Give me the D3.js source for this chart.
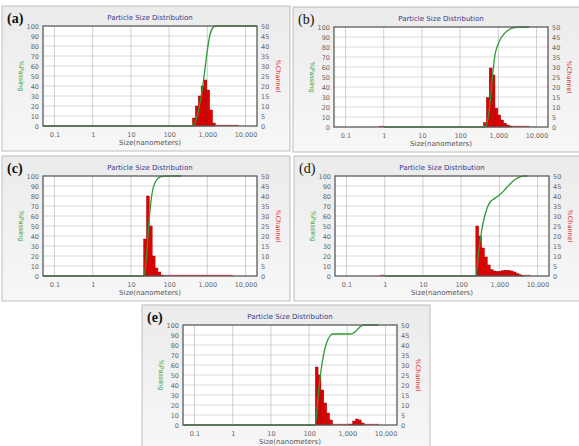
<!DOCTYPE html>
<html>
<head>
<meta charset="utf-8">
<script src="https://cdn.jsdelivr.net/npm/d3@7"></script>
<style>
  body { margin: 0; background: #fff; }
  svg { display: block; }
</style>
</head>
<body>
<svg id="chart" width="579" height="446"></svg>
<script>
// tick values
const xTicks = [0.1, 1, 10, 100, 1000, 10000];
const passTicks = [0, 10, 20, 30, 40, 50, 60, 70, 80, 90, 100];
const chanTicks = [0, 5, 10, 15, 20, 25, 30, 35, 40, 45, 50];

// (a) channel edges (nm), %channel, %passing
const edgesA = [409, 486, 578, 688, 818, 972, 1156, 1375, 1635, 1945, 2312, 2750, 3270, 3890, 4625, 5500, 6541];
const chanA = [4, 10, 15, 20, 23, 18, 8, 1.5, 0, 0, 0, 0, 0, 0, 0, 0];
const passSizeA = [0.05, 409, 486, 578, 688, 818, 972, 1156, 1375, 1635, 20000];
const passA = [0, 0, 4, 14, 29, 49, 72, 90, 98, 100, 100];

// (b)
const edgesB = [409, 486, 578, 688, 818, 972, 1156, 1375, 1635, 1945, 2312, 2750, 3270, 3890, 4625, 5500, 6541];
const chanB = [2.2, 14.7, 29.5, 26, 9.4, 6, 3.5, 1.9, 1, 0.5, 0, 0, 0, 0, 0, 0];
const passSizeB = [1, 409, 486, 578, 688, 818, 972, 1156, 1375, 1635, 1945, 2312, 2750, 3270, 3890, 6541];
const passB = [0, 0, 2, 17, 46, 72, 82, 88.5, 92.5, 95.5, 97.5, 98.8, 99.5, 99.9, 100, 100];

// (c)
const edgesC = [21.5, 25.5, 30.4, 36.1, 43, 51.1, 60.8, 72.3, 86, 102, 122, 145, 172, 204, 243, 289, 344, 409, 486, 578, 688, 818, 972, 1156, 1375, 1635, 1945, 2312, 2750, 3270, 3890, 4625];
const chanC = [18.5, 40, 25, 10, 4, 2, 0.5, 0, 0, 0, 0, 0, 0, 0, 0, 0, 0, 0, 0, 0, 0, 0, 0, 0, 0, 0, 0, 0, 0, 0, 0];
const passSizeC = [0.05, 21.5, 25.5, 30.4, 36.1, 43, 51.1, 60.8, 72.3, 86, 102, 210];
const passC = [0, 0, 18.5, 58.5, 83.5, 93.5, 97.5, 99.3, 99.8, 100, 100, 100];

// (d)
const edgesD = [243, 289, 344, 409, 486, 578, 688, 818, 972, 1156, 1375, 1635, 1945, 2312, 2750, 3270, 3890, 4625, 5500, 6541];
const chanD = [25, 20, 14, 9.5, 5.5, 3.2, 2.5, 2.3, 2.4, 2.7, 2.9, 2.8, 2.5, 2, 1.2, 0.6, 0.2, 0, 0];
const passSizeD = [1, 243, 289, 344, 409, 486, 578, 688, 818, 972, 1156, 1375, 1635, 1945, 2312, 2750, 3270, 3890, 4625, 5500];
const passD = [0, 0, 25, 45, 59, 68.5, 74, 76.5, 78.5, 80.5, 83, 86, 89.2, 92.3, 95, 97.2, 98.7, 99.6, 100, 100];

// (e)
const edgesE = [145, 172, 204, 243, 289, 344, 409, 486, 578, 688, 818, 972, 1156, 1375, 1635, 1945, 2312, 2750, 3270, 3890, 4625, 5500, 6541];
const chanE = [29, 25, 17.5, 11, 6, 2.5, 0, 0, 0, 0, 0, 0, 0.5, 2, 3, 2.5, 1, 0, 0, 0, 0, 0];
const passSizeE = [0.05, 145, 172, 204, 243, 289, 344, 409, 486, 1156, 1375, 1635, 1945, 2312, 2750, 3270, 6541];
const passE = [0, 0, 29, 54, 71.5, 82.5, 88.5, 91, 91, 91, 91.5, 93.5, 96.5, 99, 100, 100, 100];

// small red stubs near 1 nm seen in (b) and (d)
const redStubB = [[0.75, 1]];
const redStubD = [[0.75, 1]];

const panels = [
  { label: "(a)", bold: true,  left: 43,  top: 26,  edges: edgesA, chan: chanA, passSize: passSizeA, pass: passA, stubs: [] },
  { label: "(b)", bold: false, left: 334, top: 27,  edges: edgesB, chan: chanB, passSize: passSizeB, pass: passB, stubs: redStubB },
  { label: "(c)", bold: true,  left: 43,  top: 176, edges: edgesC, chan: chanC, passSize: passSizeC, pass: passC, stubs: [] },
  { label: "(d)", bold: false, left: 335, top: 176, edges: edgesD, chan: chanD, passSize: passSizeD, pass: passD, stubs: redStubD },
  { label: "(e)", bold: true,  left: 183, top: 325, edges: edgesE, chan: chanE, passSize: passSizeE, pass: passE, stubs: [] }
];

const W = 214, H = 100;
const font = "'DejaVu Sans', Verdana, sans-serif";

const svg = d3.select("#chart");

const defs = svg.append("defs");
const grad = defs.append("linearGradient")
    .attr("id", "panelBg").attr("x1", 0).attr("y1", 0).attr("x2", 0).attr("y2", 1);
grad.append("stop").attr("offset", "0%").attr("stop-color", "#ebebeb");
grad.append("stop").attr("offset", "100%").attr("stop-color", "#f7f7f7");

const x = d3.scaleLog().domain([0.05, 20000]).range([0, W]);
const yL = d3.scaleLinear().domain([0, 100]).range([H, 0]);
const yR = d3.scaleLinear().domain([0, 50]).range([H, 0]);

panels.forEach(p => {
  const g = svg.append("g").attr("transform", `translate(${p.left},${p.top})`);

  // panel frame
  g.append("rect")
      .attr("x", -41).attr("y", -20)
      .attr("width", 288).attr("height", 145)
      .attr("fill", "url(#panelBg)")
      .attr("stroke", "#bdbdbd").attr("stroke-width", 1);

  g.append("rect")
      .attr("width", W).attr("height", H)
      .attr("fill", "#fff");

  // grid
  g.append("g").selectAll("line")
      .data(passTicks.slice(1, -1))
      .enter().append("line")
      .attr("x1", 0).attr("x2", W)
      .attr("y1", d => yL(d)).attr("y2", d => yL(d))
      .attr("stroke", "#cfcfcf").attr("stroke-width", 0.8);

  g.append("g").selectAll("line")
      .data(xTicks)
      .enter().append("line")
      .attr("x1", d => x(d)).attr("x2", d => x(d))
      .attr("y1", 0).attr("y2", H)
      .attr("stroke", "#c4c4c4").attr("stroke-width", 0.8);

  // channel bars
  const bins = p.chan.map((v, i) => ({ lo: p.edges[i], hi: p.edges[i + 1], v }));

  g.append("g").selectAll("rect")
      .data(bins.filter(d => d.v > 0))
      .enter().append("rect")
      .attr("x", d => x(d.lo))
      .attr("y", d => yR(d.v))
      .attr("width", d => x(d.hi) - x(d.lo))
      .attr("height", d => yR(0) - yR(d.v))
      .attr("fill", "#e50000")
      .attr("stroke", "#8a0000").attr("stroke-width", 0.4);

  // zero channels drawn as a red line on the baseline
  const zeroRuns = bins.filter(d => d.v === 0).map(d => [d.lo, d.hi]).concat(p.stubs);
  g.append("g").selectAll("line")
      .data(zeroRuns)
      .enter().append("line")
      .attr("x1", d => x(d[0])).attr("x2", d => x(d[1]))
      .attr("y1", yR(0) - 0.6).attr("y2", yR(0) - 0.6)
      .attr("stroke", "#ff3030").attr("stroke-width", 1.1);

  // cumulative %passing
  const line = d3.line()
      .x(d => x(d[0]))
      .y(d => yL(d[1]))
      .curve(d3.curveMonotoneX);

  g.append("path")
      .datum(p.passSize.map((s, i) => [s, p.pass[i]]))
      .attr("d", line)
      .attr("fill", "none")
      .attr("stroke", "#2f9a35").attr("stroke-width", 1.3);

  // plot border
  g.append("rect")
      .attr("width", W).attr("height", H)
      .attr("fill", "none")
      .attr("stroke", "#5a5a5a").attr("stroke-width", 1.3);

  // axes
  const styleAxis = sel => {
    sel.select(".domain").remove();
    sel.selectAll("text").attr("fill", "#666").style("font-size", "6.5px").style("font-family", font);
  };

  g.append("g")
      .call(d3.axisLeft(yL).tickValues(passTicks).tickSize(0).tickPadding(4))
      .call(styleAxis);

  g.append("g")
      .attr("transform", `translate(${W},0)`)
      .call(d3.axisRight(yR).tickValues(chanTicks).tickSize(0).tickPadding(4))
      .call(styleAxis);

  g.append("g")
      .attr("transform", `translate(0,${H})`)
      .call(d3.axisBottom(x).tickValues(xTicks).tickFormat(d3.format(",")).tickSize(0).tickPadding(6))
      .call(styleAxis);

  // titles
  g.append("text")
      .attr("x", W / 2).attr("y", -6)
      .attr("text-anchor", "middle")
      .attr("fill", "#39398a")
      .style("font-size", "7px").style("font-family", font)
      .text("Particle Size Distribution");

  g.append("text")
      .attr("x", W / 2).attr("y", H + 19)
      .attr("text-anchor", "middle")
      .attr("fill", "#555")
      .style("font-size", "7px").style("font-family", font)
      .text("Size(nanometers)");

  g.append("text")
      .attr("transform", `translate(-24,${H / 2}) rotate(90)`)
      .attr("text-anchor", "middle")
      .attr("fill", "#3aa33a")
      .style("font-size", "6.5px").style("font-family", font)
      .text("%Passing");

  g.append("text")
      .attr("transform", `translate(${W + 19},${H / 2}) rotate(90)`)
      .attr("text-anchor", "middle")
      .attr("fill", "#e03030")
      .style("font-size", "6.5px").style("font-family", font)
      .text("%Channel");

  // panel letter
  g.append("text")
      .attr("x", -36).attr("y", -3)
      .attr("fill", "#111")
      .style("font-size", "14px")
      .style("font-family", "'Liberation Serif', 'Times New Roman', serif")
      .style("font-weight", p.bold ? "bold" : "normal")
      .text(p.label);
});
</script>
</body>
</html>
